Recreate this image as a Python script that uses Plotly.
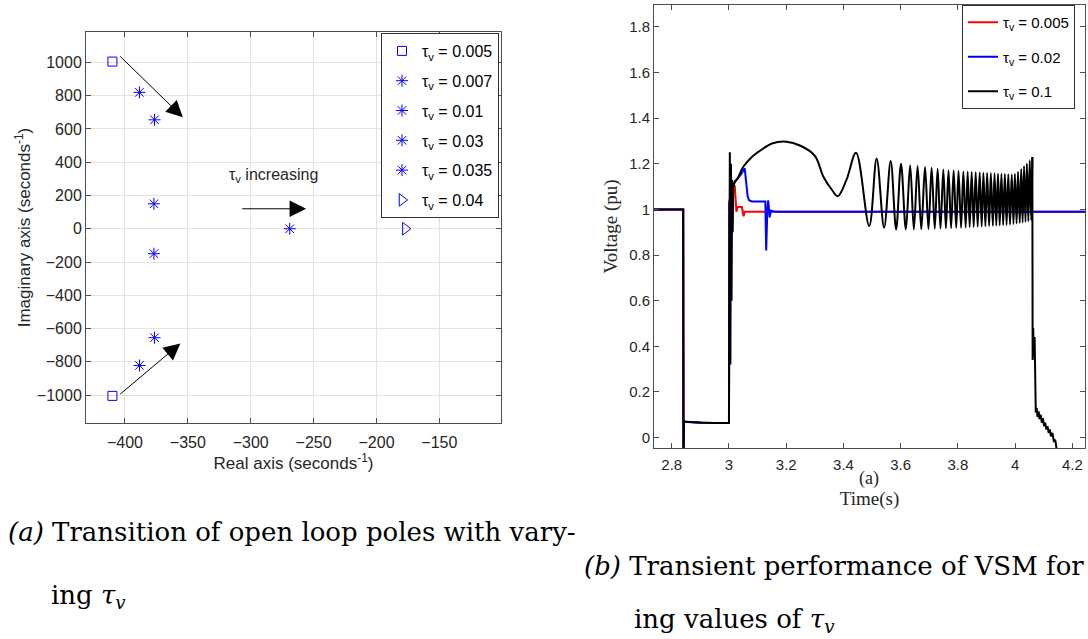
import plotly.graph_objects as go

# ---------------- Left panel data: open-loop poles ----------------
pole_labels = ["0.005", "0.007", "0.01", "0.03", "0.035", "0.04"]
pole_re = [[-410, -410], [-388.5, -388.5], [-376.5, -376.5], [-377, -377], [-269], [-177]]
pole_im = [[1005, -1005], [820, -822], [655, -655], [150, -150], [0], [0]]
pole_symbols = ["square-open", "asterisk-open", "asterisk-open", "asterisk-open",
                "asterisk-open", "triangle-right-open"]
pole_sizes = [9, 10, 10, 10, 10, 11]

arrow_tail_x = [-405, -405, -308]
arrow_tail_y = [1045, -1002, 120]
arrow_head_x = [-354, -356, -256]
arrow_head_y = [670, -690, 120]

# ---------------- Right panel data: voltage transients ----------------
red_t = [2.738, 2.840, 2.841, 2.843, 2.90, 3.000, 3.001, 3.010, 3.020, 3.023, 3.026,
         3.030, 3.045, 3.048, 3.051, 3.055, 3.100, 4.244]
red_v = [1.0, 1.0, -0.06, 0.07, 0.065, 0.064, 1.03, 1.08, 1.105, 1.05, 0.99,
         1.01, 1.01, 0.99, 0.97, 0.99, 0.99, 0.99]

blue_t = [2.738, 2.840, 2.841, 2.843, 2.90, 3.000, 3.001, 3.010, 3.020, 3.040, 3.055,
          3.060, 3.065, 3.070, 3.080, 3.127, 3.130, 3.134, 3.137, 3.142, 3.147, 3.160, 4.244]
blue_v = [1.0, 1.0, -0.06, 0.07, 0.065, 0.064, 1.03, 1.09, 1.12, 1.15, 1.18,
          1.12, 1.06, 1.04, 1.035, 1.035, 0.82, 1.0, 1.04, 0.965, 0.995, 0.99, 0.99]

blk_fault_t = [2.738, 2.840, 2.841, 2.843, 2.85, 2.90, 2.95, 3.000, 3.001, 3.002, 3.003,
               3.005, 3.007, 3.009, 3.011, 3.013, 3.015]
blk_fault_v = [1.0, 1.0, -0.06, 0.07, 0.068, 0.065, 0.064, 0.064, 1.02, 0.6, 1.25,
               0.32, 1.2, 0.6, 1.13, 0.9, 1.1]

blk_hump_t = [3.015, 3.02, 3.03, 3.05, 3.08, 3.10, 3.12, 3.15, 3.20, 3.25, 3.30,
              3.33, 3.36, 3.38, 3.41]
blk_hump_v = [1.10, 1.12, 1.136, 1.187, 1.23, 1.25, 1.267, 1.289, 1.297, 1.279, 1.235,
              1.143, 1.085, 1.058, 1.128]

osc_peak_t = [3.444, 3.516, 3.565, 3.601, 3.633, 3.659, 3.685, 3.708, 3.729, 3.749,
              3.767, 3.785, 3.802, 3.819, 3.834, 3.848, 3.862, 3.876, 3.889, 3.902,
              3.915, 3.928, 3.940, 3.952, 3.964, 3.976, 3.988, 3.999, 4.010, 4.021,
              4.031, 4.041, 4.051, 4.060]
osc_peak_v = [1.248, 1.223, 1.212, 1.200, 1.194, 1.190, 1.186, 1.182, 1.178, 1.175,
              1.172, 1.170, 1.168, 1.166, 1.165, 1.164, 1.163, 1.162, 1.161, 1.160,
              1.159, 1.158, 1.157, 1.156, 1.155, 1.154, 1.153, 1.155, 1.165, 1.177,
              1.189, 1.201, 1.215, 1.230]
osc_trough_t = [3.490, 3.542, 3.584, 3.618, 3.646, 3.672, 3.697, 3.719, 3.739, 3.758,
                3.776, 3.794, 3.811, 3.827, 3.841, 3.855, 3.869, 3.883, 3.896, 3.909,
                3.922, 3.934, 3.946, 3.958, 3.970, 3.982, 3.994, 4.005, 4.016, 4.026,
                4.036, 4.046, 4.056]
osc_trough_v = [0.927, 0.920, 0.912, 0.912, 0.912, 0.913, 0.914, 0.915, 0.916, 0.917,
                0.918, 0.919, 0.920, 0.921, 0.922, 0.923, 0.924, 0.925, 0.926, 0.927,
                0.928, 0.929, 0.930, 0.931, 0.932, 0.934, 0.936, 0.938, 0.940, 0.942,
                0.945, 0.948, 0.952]

blk_end_t = [4.060, 4.061, 4.063, 4.065, 4.068, 4.072, 4.075, 4.078, 4.082, 4.085,
             4.089, 4.093, 4.097, 4.101, 4.105, 4.109, 4.113, 4.117, 4.121, 4.125,
             4.130, 4.135, 4.140, 4.146]
blk_end_v = [1.23, 0.34, 0.48, 0.35, 0.44, 0.11, 0.13, 0.09, 0.115, 0.08,
             0.10, 0.065, 0.085, 0.05, 0.065, 0.035, 0.05, 0.02, 0.035, 0.005,
             0.02, -0.015, -0.01, -0.06]

# build smooth black segment: hump followed by interleaved peaks/troughs
blk_smooth_t = list(blk_hump_t)
blk_smooth_v = list(blk_hump_v)
for i in range(len(osc_peak_t)):
    blk_smooth_t.append(osc_peak_t[i])
    blk_smooth_v.append(osc_peak_v[i])
    if i < len(osc_trough_t):
        blk_smooth_t.append(osc_trough_t[i])
        blk_smooth_v.append(osc_trough_v[i])

SANS = "Liberation Sans, Arial, sans-serif"
SERIF = "Liberation Serif, Times New Roman, serif"
CAPF = "DejaVu Serif, serif"
AXC = "#4d4d4d"
TXC = "#262626"

fig = go.Figure()

# ---------- left panel traces ----------
for lab, xs, ys, sym, sz in zip(pole_labels, pole_re, pole_im, pole_symbols, pole_sizes):
    fig.add_trace(go.Scatter(
        x=xs, y=ys, mode="markers", xaxis="x", yaxis="y",
        name="τ<sub>v</sub> = " + lab, legendgroup="p" + lab, legend="legend",
        marker=dict(symbol=sym, size=sz, color="#0000ff",
                    line=dict(color="#0000ff", width=1)),
    ))

# ---------- right panel traces ----------
fig.add_trace(go.Scatter(x=red_t, y=red_v, mode="lines", xaxis="x2", yaxis="y2",
                         name="τ<sub>v</sub> = 0.005", legend="legend2", legendgroup="r",
                         line=dict(color="#ff0000", width=2)))
fig.add_trace(go.Scatter(x=blue_t, y=blue_v, mode="lines", xaxis="x2", yaxis="y2",
                         name="τ<sub>v</sub> = 0.02", legend="legend2", legendgroup="b",
                         line=dict(color="#0000ff", width=2)))
fig.add_trace(go.Scatter(x=blk_fault_t, y=blk_fault_v, mode="lines", xaxis="x2", yaxis="y2",
                         name="τ<sub>v</sub> = 0.1", legend="legend2", legendgroup="k",
                         line=dict(color="#000000", width=2)))
fig.add_trace(go.Scatter(x=blk_smooth_t, y=blk_smooth_v, mode="lines", xaxis="x2", yaxis="y2",
                         name="τ<sub>v</sub> = 0.1", legend="legend2", legendgroup="k",
                         showlegend=False,
                         line=dict(color="#000000", width=2, shape="spline", smoothing=1.0)))
fig.add_trace(go.Scatter(x=blk_end_t, y=blk_end_v, mode="lines", xaxis="x2", yaxis="y2",
                         name="τ<sub>v</sub> = 0.1", legend="legend2", legendgroup="k",
                         showlegend=False, line=dict(color="#000000", width=2)))

axis_common = dict(showline=True, linecolor=AXC, linewidth=1, mirror="ticks",
                   ticks="inside", ticklen=5, tickcolor=AXC, zeroline=False)

annotations = []
for tx, ty, hx, hy in zip(arrow_tail_x, arrow_tail_y, arrow_head_x, arrow_head_y):
    annotations.append(dict(x=hx, y=hy, ax=tx, ay=ty, xref="x", yref="y",
                            axref="x", ayref="y", text="", showarrow=True,
                            arrowhead=2, arrowsize=3.3, arrowwidth=1,
                            arrowcolor="#000000", standoff=0))
annotations.append(dict(x=-319, y=323, xref="x", yref="y", xanchor="left",
                        yanchor="middle", showarrow=False,
                        text="τ<sub>v</sub> increasing",
                        font=dict(family=SANS, size=16, color=TXC)))
annotations.append(dict(x=869 / 1088, y=1 - 478 / 639, xref="paper", yref="paper",
                        xanchor="center", yanchor="middle", showarrow=False, text="(a)",
                        font=dict(family=SERIF, size=18, color=TXC)))
# captions
annotations.append(dict(x=6 / 1088, y=1 - 532 / 639, xref="paper", yref="paper",
                        xanchor="left", yanchor="middle", showarrow=False,
                        text="<i>(a)</i> Transition of open loop poles with vary-",
                        font=dict(family=CAPF, size=26, color="#000000")))
annotations.append(dict(x=49 / 1088, y=1 - 596 / 639, xref="paper", yref="paper",
                        xanchor="left", yanchor="middle", showarrow=False,
                        text="ing <i>τ<sub>v</sub></i>",
                        font=dict(family=CAPF, size=26, color="#000000")))
annotations.append(dict(x=582 / 1088, y=1 - 566 / 639, xref="paper", yref="paper",
                        xanchor="left", yanchor="middle", showarrow=False,
                        text="<i>(b)</i> Transient performance of VSM for vary-",
                        font=dict(family=CAPF, size=26, color="#000000")))
annotations.append(dict(x=632 / 1088, y=1 - 620 / 639, xref="paper", yref="paper",
                        xanchor="left", yanchor="middle", showarrow=False,
                        text="ing values of <i>τ<sub>v</sub></i>",
                        font=dict(family=CAPF, size=26, color="#000000")))

fig.update_layout(
    width=1088, height=639,
    margin=dict(l=0, r=0, t=0, b=0),
    paper_bgcolor="white", plot_bgcolor="white",
    template="none",
    xaxis=dict(domain=[86 / 1088, 501 / 1088], range=[-431, -101],
               tickvals=[-400, -350, -300, -250, -200, -150],
               showgrid=True, gridcolor="#e3e3e3", gridwidth=1,
               tickfont=dict(family=SANS, size=16, color=TXC), ticklabelstandoff=5,
               title=dict(text="Real axis (seconds<sup>-1</sup>)", standoff=6,
                          font=dict(family=SANS, size=17, color=TXC)),
               anchor="y", **axis_common),
    yaxis=dict(domain=[1 - 423 / 639, 1 - 32 / 639], range=[-1168, 1183],
               tickvals=[-1000, -800, -600, -400, -200, 0, 200, 400, 600, 800, 1000],
               showgrid=True, gridcolor="#e3e3e3", gridwidth=1,
               tickfont=dict(family=SANS, size=16, color=TXC),
               title=dict(text="Imaginary axis (seconds<sup>-1</sup>)", standoff=1,
                          font=dict(family=SANS, size=17, color=TXC)),
               anchor="x", **axis_common),
    xaxis2=dict(domain=[654 / 1088, 1085 / 1088], range=[2.738, 4.244],
                tickvals=[2.8, 3.0, 3.2, 3.4, 3.6, 3.8, 4.0, 4.2],
                ticktext=["2.8", "3", "3.2", "3.4", "3.6", "3.8", "4", "4.2"],
                showgrid=False, ticklabelstandoff=3,
                tickfont=dict(family=SANS, size=15, color=TXC),
                title=dict(text="Time(s)", standoff=19,
                           font=dict(family=SERIF, size=19, color=TXC)),
                anchor="y2", **axis_common),
    yaxis2=dict(domain=[1 - 448 / 639, 1 - 5 / 639], range=[-0.046, 1.896],
                tickvals=[0, 0.2, 0.4, 0.6, 0.8, 1.0, 1.2, 1.4, 1.6, 1.8],
                ticktext=["0", "0.2", "0.4", "0.6", "0.8", "1", "1.2", "1.4", "1.6", "1.8"],
                showgrid=False,
                tickfont=dict(family=SANS, size=15, color=TXC),
                title=dict(text="Voltage (pu)", standoff=6,
                           font=dict(family=SERIF, size=19, color=TXC)),
                anchor="x2", **axis_common),
    legend=dict(x=381 / 1088, y=1 - 33 / 639, xanchor="left", yanchor="top",
                bgcolor="white", bordercolor="#333333", borderwidth=1,
                font=dict(family=SANS, size=16, color="#000000"),
                tracegroupgap=6, itemwidth=30),
    legend2=dict(x=962 / 1088, y=1 - 5 / 639, xanchor="left", yanchor="top",
                 bgcolor="white", bordercolor="#333333", borderwidth=1,
                 font=dict(family=SANS, size=15, color="#000000"),
                 tracegroupgap=12, itemwidth=30),
    annotations=annotations,
    showlegend=True,
)

fig.write_html("out.html")
